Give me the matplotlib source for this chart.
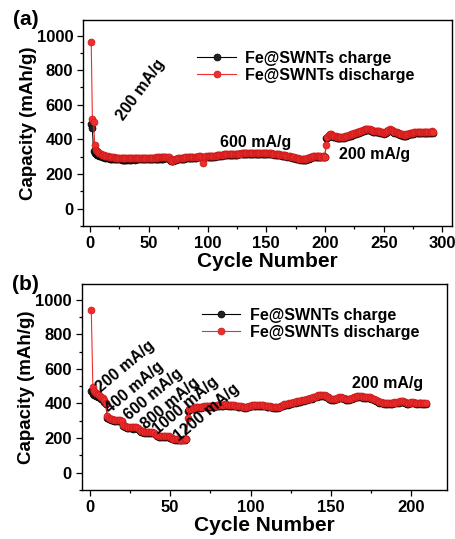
import numpy as np
import matplotlib
matplotlib.use('Agg')
import matplotlib.pyplot as plt
from matplotlib.ticker import MultipleLocator

plt.rcParams['font.family'] = ['Liberation Sans', 'DejaVu Sans']
plt.rcParams['font.weight'] = 'bold'

# ---- panel (a): 200 -> 600 -> 200 mA/g ----
discharge_a = [
    960, 515, 500, 370, 340, 330, 325, 320, 315, 312,
    310, 308, 306, 304, 302, 300, 298, 297, 296, 295,
    294, 293, 292, 292, 291, 291, 290, 290, 290, 290,
    290, 290, 291, 290, 290, 291, 291, 290, 291, 291,
    291, 292, 292, 291, 292, 292, 293, 292, 293, 293,
    293, 294, 293, 294, 294, 295, 294, 295, 295, 296,
    296, 296, 297, 297, 298, 298, 297, 285, 278, 276,
    282, 286, 288, 289, 290, 291, 292, 293, 294, 294,
    295, 295, 296, 296, 297, 297, 298, 298, 299, 299,
    300, 300, 301, 301, 300, 262, 298, 300, 301, 302,
    302, 303, 303, 304, 304, 305, 306, 307, 308, 309,
    310, 311, 312, 313, 313, 314, 314, 315, 315, 315,
    316, 316, 316, 317, 317, 318, 318, 318, 319, 319,
    319, 320, 320, 320, 321, 321, 321, 321, 320, 321,
    321, 321, 322, 321, 321, 322, 321, 321, 320, 320,
    320, 320, 319, 319, 318, 318, 317, 316, 315, 314,
    313, 312, 311, 310, 309, 308, 306, 305, 304, 302,
    300, 299, 297, 296, 294, 292, 290, 289, 288, 288,
    287, 287, 288, 288, 290, 292, 295, 298, 300, 302,
    303, 304, 304, 303, 302, 301, 300, 301, 301, 300,
    370, 415, 425, 430, 428, 425, 422, 420, 418, 416,
    415, 413, 412, 412, 414, 416, 418, 420, 422, 424,
    426, 428, 430, 432, 435, 438, 440, 442, 445, 448,
    450, 452, 455, 458, 460, 462, 460, 458, 456, 452,
    450, 448, 447, 449, 451, 448, 445, 442, 440, 438,
    440, 445, 450, 455, 458, 456, 452, 448, 445, 442,
    440, 438, 436, 433, 430, 428, 427, 426, 428, 430,
    432, 434, 436, 437, 438, 440, 441, 442, 443, 444,
    445, 444, 443, 442, 441, 440, 441, 442, 444, 445,
    446, 445,
]
charge_a = [
    490, 465, 330, 322, 316, 312, 308, 305, 302, 300,
    298, 296, 294, 292, 291, 290, 289, 288, 287, 286,
    286, 285, 285, 284, 284, 284, 283, 283, 283, 283,
    283, 283, 284, 283, 283, 284, 284, 283, 284, 284,
    284, 285, 285, 284, 285, 285, 286, 285, 286, 286,
    286, 287, 286, 287, 287, 288, 287, 288, 288, 289,
    289, 289, 290, 290, 291, 291, 290, 280, 273, 272,
    277, 281, 283, 284, 285, 286, 287, 288, 289, 289,
    290, 290, 291, 291, 292, 292, 293, 293, 294, 294,
    295, 295, 296, 296, 295, 290, 293, 295, 296, 297,
    297, 298, 298, 299, 299, 300, 301, 302, 303, 304,
    305, 306, 307, 308, 308, 309, 309, 310, 310, 310,
    311, 311, 311, 312, 312, 313, 313, 313, 314, 314,
    314, 315, 315, 315, 316, 316, 316, 316, 315, 316,
    316, 316, 317, 316, 316, 317, 316, 316, 315, 315,
    315, 315, 314, 314, 313, 313, 312, 311, 310, 309,
    308, 307, 306, 305, 304, 303, 301, 300, 299, 297,
    295, 294, 292, 291, 289, 287, 285, 284, 283, 283,
    282, 282, 283, 283, 285, 287, 290, 293, 295, 297,
    298, 299, 299, 298, 297, 296, 295, 296, 296, 295,
    405, 410, 418, 422, 421, 419, 416, 414, 412, 410,
    409, 407, 406, 406, 408, 410, 412, 414, 416, 418,
    420, 422, 424, 426, 429, 432, 434, 436, 439, 442,
    444, 446, 449, 452, 454, 456, 454, 452, 450, 446,
    444, 442, 441, 443, 445, 442, 439, 436, 434, 432,
    434, 439, 444, 449, 452, 450, 446, 442, 439, 436,
    434, 432, 430, 427, 424, 422, 421, 420, 422, 424,
    426, 428, 430, 431, 432, 434, 435, 436, 437, 438,
    439, 438, 437, 436, 435, 434, 435, 436, 438, 439,
    440, 439,
]
cycles_a = np.arange(1, len(discharge_a) + 1)

# ---- panel (b): rate test ----
discharge_b = [
    940, 495, 470, 460, 455, 450, 440, 430, 420, 405,
    330, 318, 312, 308, 306, 305, 304, 304, 303, 300,
    275, 268, 265, 263, 262, 262, 261, 262, 262, 258,
    245, 240, 238, 236, 236, 235, 235, 236, 236, 232,
    220, 215, 212, 211, 210, 210, 210, 209, 209, 206,
    198, 195, 193, 192, 192, 191, 191, 191, 192, 195,
    315, 365, 370, 372, 375, 377, 378, 380, 380, 382,
    383, 384, 384, 385, 385, 386, 387, 388, 389, 390,
    392, 392, 393, 394, 394, 393, 392, 391, 390, 389,
    388, 386, 385, 383, 382, 381, 380, 382, 385, 388,
    390, 391, 392, 393, 392, 391, 390, 389, 388, 387,
    385, 383, 382, 380, 379, 378, 378, 382, 388, 392,
    395, 396, 398, 400, 403, 405, 408, 410, 412, 414,
    415, 417, 420, 422, 425, 428, 430, 433, 436, 440,
    443, 446, 448, 450, 450, 448, 445, 440, 432, 425,
    423, 425, 428, 432, 435, 436, 434, 430, 426, 424,
    425, 428, 432, 436, 440, 443, 445, 444, 441, 438,
    436, 437, 438, 436, 432, 428, 424, 420, 415, 410,
    407, 405, 403, 401, 400, 400, 402, 404, 406, 405,
    408, 410, 413, 415, 412, 408, 404, 400, 405, 410,
    408, 405, 400, 402, 405, 403, 400, 401, 402,
]
charge_b = [
    470, 455, 450, 445, 440, 435, 428, 420, 410, 395,
    315, 308, 304, 302, 300, 299, 298, 298, 297, 295,
    268, 262, 259, 257, 256, 256, 255, 256, 256, 253,
    240, 235, 233, 231, 231, 230, 230, 231, 231, 228,
    215, 211, 208, 207, 206, 206, 206, 205, 205, 203,
    195, 192, 190, 189, 189, 188, 188, 188, 189, 192,
    355, 362, 365, 367, 370, 372, 373, 375, 375, 377,
    378, 379, 379, 380, 380, 381, 382, 383, 384, 385,
    387, 387, 388, 389, 389, 388, 387, 386, 385, 384,
    383, 381, 380, 378, 377, 376, 375, 377, 380, 383,
    385, 386, 387, 388, 387, 386, 385, 384, 383, 382,
    380, 378, 377, 375, 374, 373, 373, 377, 383, 387,
    390, 391, 393, 395, 398, 400, 403, 405, 407, 409,
    410, 412, 415, 417, 420, 423, 425, 428, 431, 435,
    438, 441, 443, 445, 445, 443, 440, 435, 427, 420,
    418, 420, 423, 427, 430, 431, 429, 425, 421, 419,
    420, 423, 427, 431, 435, 438, 440, 439, 436, 433,
    431, 432, 433, 431, 427, 423, 419, 415, 410, 405,
    402, 400, 398, 396, 395, 395, 397, 399, 401, 400,
    403, 405, 408, 410, 407, 403, 399, 395, 400, 405,
    403, 400, 395, 397, 400, 398, 395, 396, 397,
]
cycles_b = np.arange(1, len(discharge_b) + 1)

# rate labels: (text, x, y, rotation)
labels_a = [('200 mA/g', 43, 685, 54), ('600 mA/g', 141, 384, 0), ('200 mA/g', 242, 315, 0)]
labels_b = [('200 mA/g', 22, 615, 40), ('400 mA/g', 28, 492, 40), ('600 mA/g', 39.5, 450, 40),
            ('800 mA/g', 50, 402, 40), ('1000 mA/g', 60, 390, 40), ('1200 mA/g', 73, 347, 40),
            ('200 mA/g', 185, 518, 0)]

red = '#ee2e2e'
red_edge = '#cc1a1a'

fig = plt.figure(figsize=(4.56, 5.39), dpi=100)
ax_a = fig.add_axes([0.182, 0.581, 0.809, 0.382])
ax_b = fig.add_axes([0.179, 0.091, 0.801, 0.382])


def draw_panel(ax, x, charge, discharge, labels, xlim, xmajor, leg_anchor, tag):
    ax.plot(x, charge, '-o', color='black', lw=0.8, ms=5, mfc='#222222', mec='black',
            mew=0.5, label='Fe@SWNTs charge')
    ax.plot(x, discharge, '-o', color=red, lw=0.8, ms=5, mfc=red, mec=red_edge,
            mew=0.5, label='Fe@SWNTs discharge')
    ax.set_xlim(*xlim)
    ax.set_ylim(-100, 1090)
    ax.xaxis.set_major_locator(MultipleLocator(xmajor))
    ax.xaxis.set_minor_locator(MultipleLocator(xmajor / 2))
    ax.yaxis.set_major_locator(MultipleLocator(200))
    ax.yaxis.set_minor_locator(MultipleLocator(100))
    ax.tick_params(which='both', direction='out', top=False, right=False, labelsize=12, width=0.9)
    ax.tick_params(which='major', length=4.5, pad=2.5)
    ax.tick_params(which='minor', length=2.5)
    for s in ax.spines.values():
        s.set_linewidth(1.0)
    for lab in ax.get_xticklabels() + ax.get_yticklabels():
        lab.set_fontweight('bold')
    ax.set_xlabel('Cycle Number', fontsize=15, fontweight='bold', labelpad=1)
    ax.set_ylabel('Capacity (mAh/g)', fontsize=13.5, fontweight='bold', labelpad=0)
    for txt, tx, ty, rot in labels:
        ax.text(tx, ty, txt, rotation=rot, rotation_mode='anchor', ha='center', va='center',
                fontsize=11.5, fontweight='bold')
    ax.legend(loc='upper left', bbox_to_anchor=leg_anchor, frameon=False,
              handlelength=2.4, handletextpad=0.6, labelspacing=0.12, borderpad=0,
              borderaxespad=0, prop={'weight': 'bold', 'size': 11.5})
    ax.text(-0.19, 1.0, tag, transform=ax.transAxes, fontsize=15, fontweight='bold',
            ha='left', va='center')


draw_panel(ax_a, cycles_a, charge_a, discharge_a, labels_a, (-6, 308), 50, (0.31, 0.85), '(a)')
draw_panel(ax_b, cycles_b, charge_b, discharge_b, labels_b, (-5, 222), 50, (0.33, 0.885), '(b)')

fig.savefig('out.png', dpi=100)
